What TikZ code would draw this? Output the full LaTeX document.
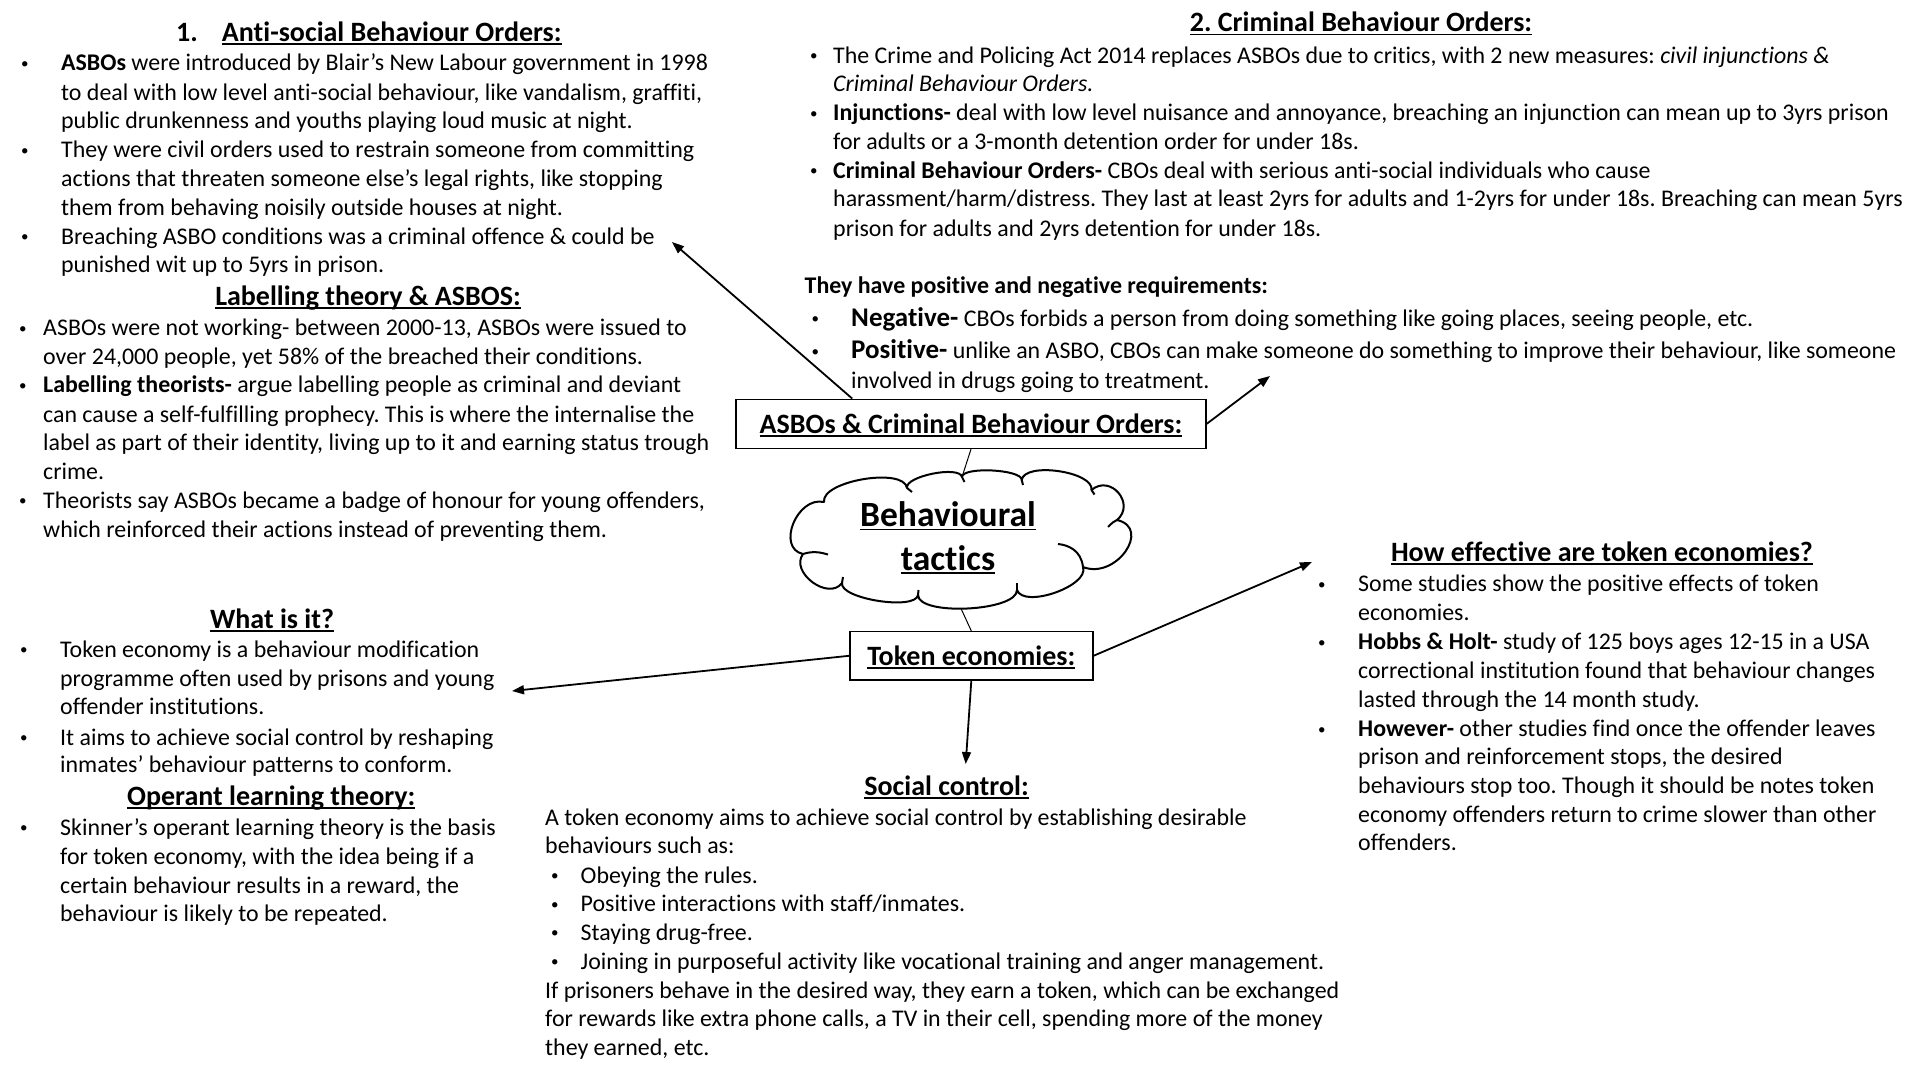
\documentclass[tikz,border=0pt]{standalone}
\usepackage{fontspec}
\setmainfont{Carlito}[Ligatures={NoCommon,NoRequired,NoContextual}]
\usetikzlibrary{arrows.meta}
\frenchspacing
\newcommand\myul[1]{\leavevmode\setbox0=\hbox{#1}\rlap{\rule[-3.6pt]{\wd0}{1.8pt}}\box0}
\tikzset{
  txt/.style={anchor=base west, inner sep=0pt, font=\fontsize{23.9}{28}\selectfont},
  bul/.style={anchor=base west, inner sep=0pt, yshift=2.5pt, font=\fontsize{15}{18}\selectfont},
  ttl/.style={anchor=base, inner sep=0pt, font=\fontsize{28}{32}\selectfont\bfseries},
  boxnode/.style={draw, line width=1.5pt, inner sep=0pt, font=\fontsize{28}{32}\selectfont\bfseries, text height=24pt, text depth=5.6pt},
  arr/.style={line width=1.8pt, -{Triangle[length=12pt,width=9pt]}},
  link/.style={line width=1pt},
  cloudline/.style={line width=2pt, line join=round},
  cloudtxt/.style={anchor=base, inner sep=0pt, font=\fontsize{35.5}{40}\selectfont\bfseries},
}
\begin{document}
\begin{tikzpicture}[x=1pt,y=-1pt]
\useasboundingbox[fill=white] (0,0) rectangle (1920,1080);

% ---------- Section 1 ----------
\node[ttl, anchor=base west] (t1n) at (176,41.4) {1.};
\node[ttl, anchor=base west] (t1) at (221.7,41.4) {\myul{Anti-social Behaviour Orders:}};
\node[bul] (a1b) at (21,70.7) {•};
\node[txt] (a1) at (61,70.7) {\textbf{ASBOs} were introduced by Blair’s New Labour government in 1998};
\node[txt] (a2) at (61,100) {to deal with low level anti-social behaviour, like vandalism, graffiti,};
\node[txt] (a3) at (61,128.8) {public drunkenness and youths playing loud music at night.};
\node[bul] (a4b) at (21,157.6) {•};
\node[txt] (a4) at (61,157.6) {They were civil orders used to restrain someone from committing};
\node[txt] (a5) at (61,186.4) {actions that threaten someone else’s legal rights, like stopping};
\node[txt] (a6) at (61,215.2) {them from behaving noisily outside houses at night.};
\node[bul] (a7b) at (21,244) {•};
\node[txt] (a7) at (61,244) {Breaching ASBO conditions was a criminal offence \& could be};
\node[txt] (a8) at (61,272.7) {punished wit up to 5yrs in prison.};

% ---------- Labelling ----------
\node[ttl] (t2) at (368,305) {\myul{Labelling theory \& ASBOS:}};
\node[bul] (c1b) at (19,335.5) {•};
\node[txt] (c1) at (43,335.5) {ASBOs were not working- between 2000-13, ASBOs were issued to};
\node[txt] (c2) at (43,364.6) {over 24,000 people, yet 58\% of the breached their conditions.};
\node[bul] (c3b) at (19,392.7) {•};
\node[txt] (c3) at (43,392.7) {\textbf{Labelling theorists-} argue labelling people as criminal and deviant};
\node[txt] (c4) at (43,422) {can cause a self-fulfilling prophecy. This is where the internalise the};
\node[txt] (c5) at (43,450.3) {label as part of their identity, living up to it and earning status trough};
\node[txt] (c6) at (43,479.7) {crime.};
\node[bul] (c7b) at (19,508.4) {•};
\node[txt] (c7) at (43,508.4) {Theorists say ASBOs became a badge of honour for young offenders,};
\node[txt] (c8) at (43,537.2) {which reinforced their actions instead of preventing them.};

% ---------- Section 2 ----------
\node[ttl] (t3) at (1361,31.7) {\myul{2. Criminal Behaviour Orders:}};
\node[bul] (r1b) at (810,63.3) {•};
\node[txt] (r1) at (833,63.3) {The Crime and Policing Act 2014 replaces ASBOs due to critics, with 2 new measures: \textit{civil injunctions \&}};
\node[txt] (r2) at (833,91.5) {\textit{Criminal Behaviour Orders.}};
\node[bul] (r3b) at (810,120.9) {•};
\node[txt] (r3) at (833,120.9) {\textbf{Injunctions-} deal with low level nuisance and annoyance, breaching an injunction can mean up to 3yrs prison};
\node[txt] (r4) at (833,149) {for adults or a 3-month detention order for under 18s.};
\node[bul] (r5b) at (810,178.4) {•};
\node[txt] (r5) at (833,178.4) {\textbf{Criminal Behaviour Orders-} CBOs deal with serious anti-social individuals who cause};
\node[txt] (r6) at (833,206.6) {harassment/harm/distress. They last at least 2yrs for adults and 1-2yrs for under 18s. Breaching can mean 5yrs};
\node[txt] (r7) at (833,236) {prison for adults and 2yrs detention for under 18s.};
\node[txt] (r8) at (804.5,293) {\textbf{They have positive and negative requirements:}};
\node[bul] (r9b) at (811.5,326) {•};
\node[txt] (r9) at (851,326) {{\fontsize{27}{30}\selectfont\bfseries Negative-} CBOs forbids a person from doing something like going places, seeing people, etc.};
\node[bul] (r10b) at (811.5,358.6) {•};
\node[txt] (r10) at (851,358.6) {{\fontsize{27}{30}\selectfont\bfseries Positive-} unlike an ASBO, CBOs can make someone do something to improve their behaviour, like someone};
\node[txt] (r11) at (851,388) {involved in drugs going to treatment.};

% ---------- Central nodes ----------
\node[boxnode, minimum width=470pt, minimum height=49pt] (asbo) at (971,423.8) {\myul{ASBOs \& Criminal Behaviour Orders:}};
\node[boxnode, minimum width=243pt, minimum height=48.3pt] (tok) at (971.3,655.8) {\myul{Token economies:}};

% cloud
\draw[cloudline] (962,477)
  .. controls (962.4,466.3) and (1022.1,469.3) .. (1021.7,480)
  .. controls (1024.3,461.5) and (1094.1,471.5) .. (1091.5,490)
  .. controls (1110.5,473.8) and (1136,503.8) .. (1117,520)
  .. controls (1152,528) and (1116,580) .. (1083,567)
  .. controls (1089.6,585.9) and (1023.6,608.9) .. (1017,590)
  .. controls (1017.4,611.3) and (918.4,616.3) .. (918,595)
  .. controls (915.5,610.8) and (839.5,598.8) .. (842,583)
  .. controls (828.5,601.2) and (789.5,572.2) .. (803,554)
  .. controls (776,548) and (797,496) .. (824,502)
  .. controls (821,480.9) and (904,466.9) .. (907,488)
  .. controls (904.6,476.2) and (959.6,465.2) .. cycle;
\draw[cloudline] (962,477) -- (964.5,482);
\draw[cloudline] (1021.7,480) -- (1023,485);
\draw[cloudline] (1091.5,490) -- (1094.5,494.5);
\draw[cloudline] (1117,520) .. controls (1113,522) .. (1108,527);
\draw[cloudline] (1083,567) .. controls (1081,550) and (1068,545) .. (1058,544);
\draw[cloudline] (1017,590) -- (1017,583);
\draw[cloudline] (918,595) -- (918.5,590);
\draw[cloudline] (842,583) -- (843,577);
\draw[cloudline] (803,554) .. controls (812,551) and (820,552) .. (828,554.5);
\draw[cloudline] (907,488) -- (912,492);
\node[cloudtxt] (ct1) at (948,526.7) {\myul{Behavioural}};
\node[cloudtxt] (ct2) at (948,570) {\myul{tactics}};
\coordinate (ctop) at (962,477);
\coordinate (cbot) at (961,608.5);

\coordinate (p1) at (672,242);
\coordinate (p2) at (1270,376);
\coordinate (p3) at (1312,562);
\coordinate (p4) at (512,691);
\coordinate (p5) at (965.7,764);

\draw[arr] (asbo.168.7) -- (p1);
\draw[arr] (asbo.east) -- (p2);
\draw[link] (asbo.south) -- (ctop);
\draw[link] (cbot) -- (tok.north);
\draw[arr] (tok.east) -- (p3);
\draw[arr] (tok.west) -- (p4);
\draw[arr] (tok.south) -- (p5);

% ---------- What is it ----------
\node[ttl] (t4) at (272,628) {\myul{What is it?}};
\node[bul] (w1b) at (20,657) {•};
\node[txt] (w1) at (60,657) {Token economy is a behaviour modification};
\node[txt] (w2) at (60,686.5) {programme often used by prisons and young};
\node[txt] (w3) at (60,714) {offender institutions.};
\node[bul] (w4b) at (20,745) {•};
\node[txt] (w4) at (60,745) {It aims to achieve social control by reshaping};
\node[txt] (w5) at (60,772.8) {inmates’ behaviour patterns to conform.};
\node[ttl] (t5) at (271.3,805.5) {\myul{Operant learning theory:}};
\node[bul] (o1b) at (20,835) {•};
\node[txt] (o1) at (60,835) {Skinner’s operant learning theory is the basis};
\node[txt] (o2) at (60,864) {for token economy, with the idea being if a};
\node[txt] (o3) at (60,893.4) {certain behaviour results in a reward, the};
\node[txt] (o4) at (60,921) {behaviour is likely to be repeated.};

% ---------- Social control ----------
\node[ttl] (t6) at (946.5,795) {\myul{Social control:}};
\node[txt] (s1) at (545,825.5) {A token economy aims to achieve social control by establishing desirable};
\node[txt] (s2) at (545,853.8) {behaviours such as:};
\node[bul] (s3b) at (551,883) {•};
\node[txt] (s3) at (580.5,883) {Obeying the rules.};
\node[bul] (s4b) at (551,911.7) {•};
\node[txt] (s4) at (580.5,911.7) {Positive interactions with staff/inmates.};
\node[bul] (s5b) at (551,940) {•};
\node[txt] (s5) at (580.5,940) {Staying drug-free.};
\node[bul] (s6b) at (551,969.3) {•};
\node[txt] (s6) at (580.5,969.3) {Joining in purposeful activity like vocational training and anger management.};
\node[txt] (s7) at (545,998.6) {If prisoners behave in the desired way, they earn a token, which can be exchanged};
\node[txt] (s8) at (545,1026) {for rewards like extra phone calls, a TV in their cell, spending more of the money};
\node[txt] (s9) at (545,1055.5) {they earned, etc.};

% ---------- How effective ----------
\node[ttl] (t7) at (1602,561.4) {\myul{How effective are token economies?}};
\node[bul] (h1b) at (1318,591.7) {•};
\node[txt] (h1) at (1358,591.7) {Some studies show the positive effects of token};
\node[txt] (h2) at (1358,620) {economies.};
\node[bul] (h3b) at (1318,649.7) {•};
\node[txt] (h3) at (1358,649.7) {\textbf{Hobbs \& Holt-} study of 125 boys ages 12-15 in a USA};
\node[txt] (h4) at (1358,678) {correctional institution found that behaviour changes};
\node[txt] (h5) at (1358,707) {lasted through the 14 month study.};
\node[bul] (h6b) at (1318,736.5) {•};
\node[txt] (h6) at (1358,736.5) {\textbf{However-} other studies find once the offender leaves};
\node[txt] (h7) at (1358,764.8) {prison and reinforcement stops, the desired};
\node[txt] (h8) at (1358,793.4) {behaviours stop too. Though it should be notes token};
\node[txt] (h9) at (1358,822.8) {economy offenders return to crime slower than other};
\node[txt] (h10) at (1358,850) {offenders.};
\end{tikzpicture}
\end{document}
